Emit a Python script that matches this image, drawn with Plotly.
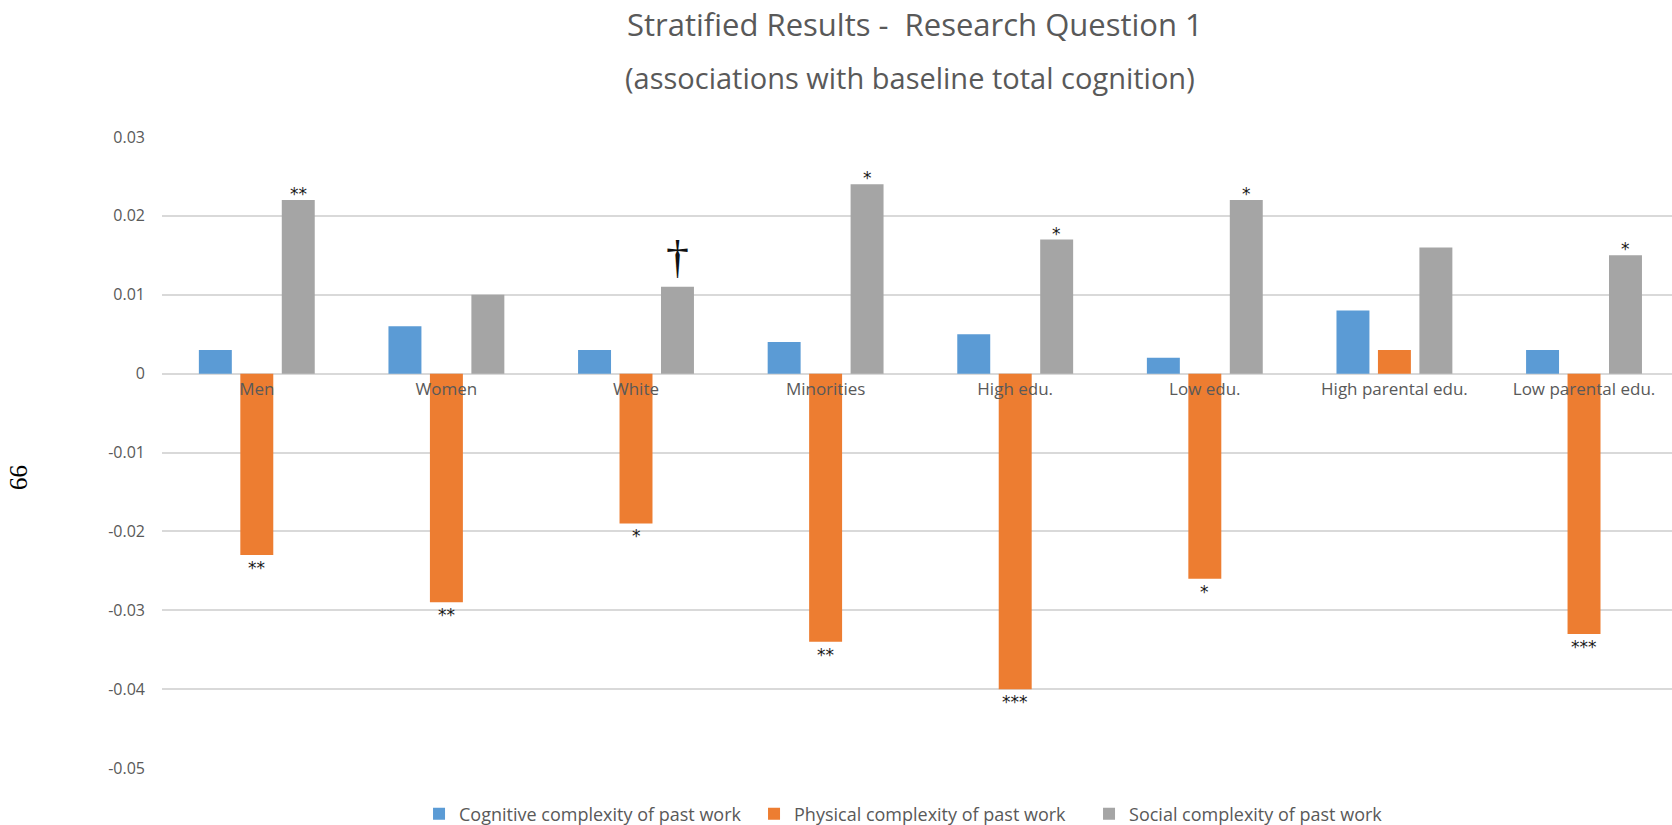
import plotly.graph_objects as go

# Stratified estimates: association of past-work complexity with baseline total cognition
groups = ["Men", "Women", "White", "Minorities", "High edu.", "Low edu.",
          "High parental edu.", "Low parental edu."]
cognitive = [0.003, 0.006, 0.003, 0.004, 0.005, 0.002, 0.008, 0.003]
physical = [-0.023, -0.029, -0.019, -0.034, -0.040, -0.026, 0.003, -0.033]
social = [0.022, 0.010, 0.011, 0.024, 0.017, 0.022, 0.016, 0.015]

# significance markers
sig_physical = ["**", "**", "*", "**", "***", "*", "", "***"]
sig_social = ["**", "", "\u2020", "*", "*", "*", "", "*"]

y_ticks = [0.03, 0.02, 0.01, 0.0, -0.01, -0.02, -0.03, -0.04, -0.05]
y_labels = ["0.03", "0.02", "0.01", "0", "-0.01", "-0.02", "-0.03", "-0.04", "-0.05"]

series_names = ["Cognitive complexity of past work",
                "Physical complexity of past work",
                "Social complexity of past work"]
colors = ["#5B9BD5", "#ED7D31", "#A5A5A5"]

BARGAP = 0.344
BARGROUPGAP = 0.205
slot = (1 - BARGAP) / 3  # width of each series slot within a group

FONT = "Open Sans"
TXT = "#595959"

fig = go.Figure()
for name, vals, col in zip(series_names, [cognitive, physical, social], colors):
    fig.add_trace(go.Bar(x=groups, y=vals, name=name, marker_color=col,
                         marker_line_width=0))

annotations = []
for i, (sp, ss) in enumerate(zip(sig_physical, sig_social)):
    if sp:
        annotations.append(dict(x=i, y=physical[i], xref="x", yref="y",
                                text=sp, showarrow=False, yanchor="top",
                                yshift=-1, font=dict(family="DejaVu Sans", size=17,
                                                     color="#1a1a1a")))
    if ss == "\u2020":
        annotations.append(dict(x=i + slot, y=social[i], xref="x", yref="y",
                                text=ss, showarrow=False, yanchor="bottom",
                                yshift=2, font=dict(family="Liberation Serif", size=46,
                                                    color="#111111")))
    elif ss:
        annotations.append(dict(x=i + slot, y=social[i], xref="x", yref="y",
                                text=ss, showarrow=False, yanchor="bottom",
                                yshift=-6, font=dict(family="DejaVu Sans", size=17,
                                                     color="#1a1a1a")))

annotations += [
    dict(text="Stratified Results -  Research Question 1", x=0.4987, y=1.179,
         xref="paper", yref="paper", showarrow=False,
         xanchor="center", yanchor="middle",
         font=dict(family=FONT, size=31, color=TXT)),
    dict(text="(associations with baseline total cognition)", x=0.4954, y=1.095,
         xref="paper", yref="paper", showarrow=False,
         xanchor="center", yanchor="middle",
         font=dict(family=FONT, size=29, color=TXT)),
    dict(text="99", x=-0.0947, y=0.461, xref="paper", yref="paper",
         showarrow=False, textangle=90, xanchor="center", yanchor="middle",
         font=dict(family="Liberation Serif", size=25, color="#000000")),
]

fig.update_layout(
    width=1672, height=825,
    margin=dict(l=162, r=0, t=137, b=57, autoexpand=False),
    paper_bgcolor="white", plot_bgcolor="white",
    barmode="group", bargap=BARGAP, bargroupgap=BARGROUPGAP,
    font=dict(family=FONT, color=TXT),
    showlegend=True,
    legend=dict(orientation="h", x=0.503, y=-0.073, xanchor="center",
                yanchor="middle", font=dict(family=FONT, size=18, color=TXT),
                itemwidth=30, entrywidth=290, entrywidthmode="pixels"),
    annotations=annotations,
)
fig.update_xaxes(range=[-0.5, 7.464], anchor="free", position=0.625,
                 showgrid=False, showline=False, ticks="",
                 tickfont=dict(family=FONT, size=17, color=TXT),
                 ticklabelstandoff=3)
fig.update_yaxes(range=[-0.05, 0.03], tickvals=y_ticks, ticktext=y_labels,
                 showgrid=True, gridcolor="#D9D9D9", gridwidth=2,
                 zeroline=True, zerolinecolor="#D9D9D9", zerolinewidth=2,
                 showline=False, ticks="",
                 tickfont=dict(family=FONT, size=16, color=TXT),
                 ticklabelstandoff=16)

fig.write_html("out.html")
